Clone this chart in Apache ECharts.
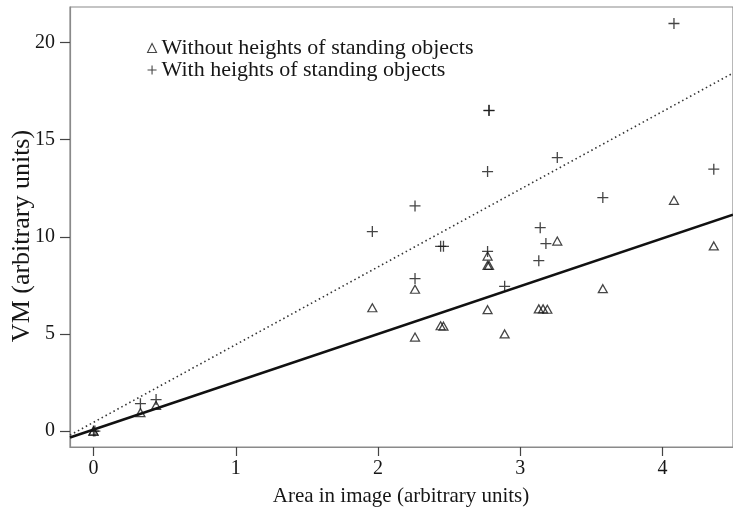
<!DOCTYPE html>
<html>
<head>
<meta charset="utf-8">
<script src="https://cdn.jsdelivr.net/npm/echarts@6/dist/echarts.min.js"></script>
<style>
html,body{margin:0;padding:0;background:#fff;}
#chart{width:733px;height:510px;}
</style>
</head>
<body>
<div id="chart"></div>
<script>
// ---- data ----
var seriesNames = ['Without heights of standing objects', 'With heights of standing objects'];

var withoutX = [0, 0, 0.33, 0.44, 1.96, 2.26, 2.26, 2.44, 2.46, 2.77, 2.77, 2.78, 2.77, 2.89, 3.13, 3.16, 3.19, 3.26, 3.58, 4.08, 4.36];
var withoutY = [0, 0, 0.95, 1.32, 6.35, 7.30, 4.84, 5.42, 5.40, 9.01, 8.53, 8.53, 6.25, 5.00, 6.29, 6.29, 6.27, 9.78, 7.33, 11.88, 9.53];

var withX = [0, 0.01, 0.33, 0.44, 1.96, 2.26, 2.26, 2.44, 2.46, 2.78, 2.78, 2.77, 2.77, 2.89, 3.13, 3.14, 3.18, 3.26, 3.58, 4.08, 4.36];
var withY = [0, 0, 1.41, 1.62, 10.27, 11.59, 7.85, 9.51, 9.51, 16.51, 16.50, 13.36, 9.25, 7.45, 8.77, 10.47, 9.65, 14.08, 12.02, 20.98, 13.48];

// fitted lines (end points)
var fitWithoutX = [-0.165, 4.495];
var fitWithoutY = [-0.33, 11.14];
var fitWithX = [-0.165, 4.495];
var fitWithY = [-0.21, 18.43];

var xTicks = [0, 1, 2, 3, 4];
var yTicks = [0, 5, 10, 15, 20];

var xTitle = 'Area in image (arbitrary units)';
var yTitle = 'VM (arbitrary units)';

// ---- build ----
function pairs(xs, ys) { return xs.map(function (x, i) { return [x, ys[i]]; }); }

var FONT = 'Liberation Serif';
var INK = '#161616';
var plusPath = 'path://M0,5L10,5M5,0L5,10';

var chart = echarts.init(document.getElementById('chart'), null, {renderer: 'canvas'});
chart.setOption({
  animation: false,
  backgroundColor: '#fff',
  grid: {left: 70, right: -1, top: 7, bottom: 63, show: true, borderColor: '#8a8a8a', borderWidth: 1.2, backgroundColor: 'transparent'},
  legend: {
    left: 142, top: 32, orient: 'vertical', itemGap: 0, itemWidth: 9, itemHeight: 9,
    selectedMode: false,
    textStyle: {fontFamily: FONT, fontSize: 22, color: INK, lineHeight: 21},
    data: [
      {name: seriesNames[0], icon: 'triangle', itemStyle: {color: 'rgba(0,0,0,0)', borderColor: INK, borderWidth: 1.1}},
      {name: seriesNames[1], icon: plusPath, itemStyle: {color: 'rgba(0,0,0,0)', borderColor: INK, borderWidth: 1.1}}
    ]
  },
  xAxis: {
    type: 'value', min: -0.165, max: 4.495,
    axisLine: {show: true, onZero: false, lineStyle: {color: '#8a8a8a', width: 1.2}},
    axisTick: {show: true, customValues: xTicks, length: 9, lineStyle: {color: '#444', width: 1.2}},
    axisLabel: {customValues: xTicks, margin: 12, fontFamily: FONT, fontSize: 20, color: INK},
    splitLine: {show: false}
  },
  yAxis: {
    type: 'value', min: -0.82, max: 21.83,
    axisLine: {show: true, onZero: false, lineStyle: {color: '#8a8a8a', width: 1.2}},
    axisTick: {show: true, customValues: yTicks, length: 10, lineStyle: {color: '#444', width: 1.2}},
    axisLabel: {customValues: yTicks, margin: 15, fontFamily: FONT, fontSize: 20, color: INK},
    splitLine: {show: false}
  },
  graphic: [
    {type: 'text', x: 401, y: 496,
     style: {text: xTitle, fontFamily: FONT, fontSize: 21, fill: INK, align: 'center', verticalAlign: 'middle'}},
    {type: 'text', x: 22, y: 236, rotation: Math.PI / 2,
     style: {text: yTitle, fontFamily: FONT, fontSize: 26, fill: INK, align: 'center', verticalAlign: 'middle'}}
  ],
  series: [
    {type: 'line', name: 'fitWithout', data: pairs(fitWithoutX, fitWithoutY), symbol: 'none', silent: true, z: 2,
     lineStyle: {color: '#111', width: 2.6}, clip: true},
    {type: 'line', name: 'fitWith', data: pairs(fitWithX, fitWithY), symbol: 'none', silent: true, z: 2,
     lineStyle: {color: '#333', width: 1.6, type: [1.5, 3]}, clip: true},
    {type: 'scatter', name: seriesNames[0], data: pairs(withoutX, withoutY), symbol: 'triangle', symbolSize: [9, 8], z: 3,
     itemStyle: {color: 'rgba(0,0,0,0)', borderColor: INK, borderWidth: 1.25}},
    {type: 'scatter', name: seriesNames[1], data: pairs(withX, withY), symbol: plusPath, symbolSize: 11, z: 3,
     itemStyle: {color: 'rgba(0,0,0,0)', borderColor: INK, borderWidth: 1.3}}
  ]
});
</script>
</body>
</html>
